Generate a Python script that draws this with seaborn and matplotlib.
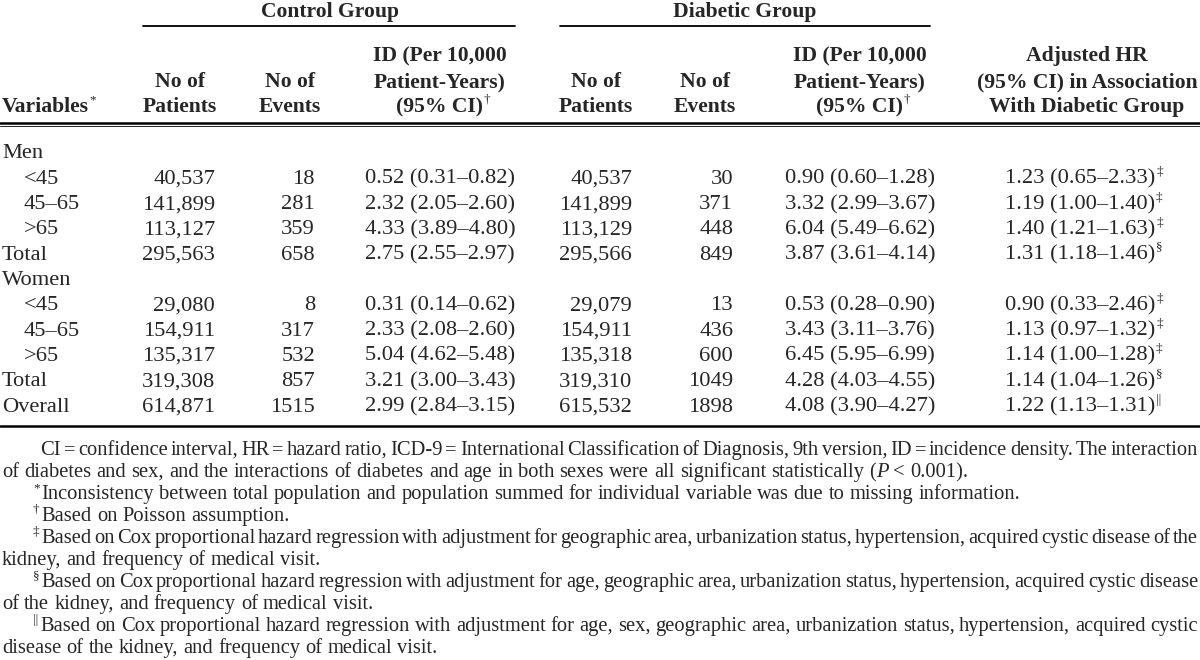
import matplotlib
matplotlib.use("Agg")
import matplotlib.pyplot as plt
import seaborn as sns

sns.set_style("white")
plt.rcParams['font.family'] = ['Liberation Serif', 'DejaVu Serif']

# ---- data ----
variables = ["Men", "<45", "45\u201365", ">65", "Total", "Women", "<45", "45\u201365", ">65", "Total", "Overall"]
indent = [0, 1, 1, 1, 0, 0, 1, 1, 1, 0, 0]
control_patients = ["", "40,537", "141,899", "113,127", "295,563", "", "29,080", "154,911", "135,317", "319,308", "614,871"]
control_events = ["", "18", "281", "359", "658", "", "8", "317", "532", "857", "1515"]
control_id = ["", "0.52 (0.31\u20130.82)", "2.32 (2.05\u20132.60)", "4.33 (3.89\u20134.80)", "2.75 (2.55\u20132.97)", "",
              "0.31 (0.14\u20130.62)", "2.33 (2.08\u20132.60)", "5.04 (4.62\u20135.48)", "3.21 (3.00\u20133.43)", "2.99 (2.84\u20133.15)"]
diabetic_patients = ["", "40,537", "141,899", "113,129", "295,566", "", "29,079", "154,911", "135,318", "319,310", "615,532"]
diabetic_events = ["", "30", "371", "448", "849", "", "13", "436", "600", "1049", "1898"]
diabetic_id = ["", "0.90 (0.60\u20131.28)", "3.32 (2.99\u20133.67)", "6.04 (5.49\u20136.62)", "3.87 (3.61\u20134.14)", "",
               "0.53 (0.28\u20130.90)", "3.43 (3.11\u20133.76)", "6.45 (5.95\u20136.99)", "4.28 (4.03\u20134.55)", "4.08 (3.90\u20134.27)"]
adjusted_hr = ["", "1.23 (0.65\u20132.33)", "1.19 (1.00\u20131.40)", "1.40 (1.21\u20131.63)", "1.31 (1.18\u20131.46)", "",
               "0.90 (0.33\u20132.46)", "1.13 (0.97\u20131.32)", "1.14 (1.00\u20131.28)", "1.14 (1.04\u20131.26)", "1.22 (1.13\u20131.31)"]
hr_marks = ["", "\u2021", "\u2021", "\u2021", "\u00a7", "", "\u2021", "\u2021", "\u2021", "\u00a7", "||"]

group_titles = ["Control Group", "Diabetic Group"]
col_headers = [["Variables"], ["No of", "Patients"], ["No of", "Events"],
               ["ID (Per 10,000", "Patient-Years)", "(95% CI)"],
               ["No of", "Patients"], ["No of", "Events"],
               ["ID (Per 10,000", "Patient-Years)", "(95% CI)"],
               ["Adjusted HR", "(95% CI) in Association", "With Diabetic Group"]]
header_marks = ["*", "", "", "\u2020", "", "", "\u2020", ""]

footnotes = [
    ("", True, "CI = confidence interval, HR = hazard ratio, ICD-9 =  International Classification of Diagnosis, 9th version, ID = incidence density. The interaction"),
    (None, False, "of diabetes and sex, and the interactions of diabetes and age in both sexes were all significant statistically (P < 0.001)."),
    ("*", False, "Inconsistency between total population and population summed for individual variable was due to missing information."),
    ("\u2020", False, "Based on Poisson assumption."),
    ("\u2021", True, "Based on Cox proportional hazard regression with adjustment for geographic area, urbanization status, hypertension, acquired cystic disease of the"),
    (None, False, "kidney, and frequency of medical visit."),
    ("\u00a7", True, "Based on Cox proportional hazard regression with adjustment for age, geographic area, urbanization status, hypertension, acquired cystic disease"),
    (None, False, "of the kidney, and frequency of medical visit."),
    ("||", True, "Based on Cox proportional hazard regression with adjustment for age, sex, geographic area, urbanization status, hypertension, acquired cystic"),
    (None, False, "disease of the kidney, and frequency of medical visit."),
]

# ---- figure ----
fig = plt.figure(figsize=(12, 6.6), dpi=100)
ax = fig.add_axes([0, 0, 1, 1])
ax.set_xlim(0, 1200)
ax.set_ylim(660, 0)
ax.axis("off")
renderer = fig.canvas.get_renderer()

FS = 16.2
HFS = 15.6
NFS = 14.8
SUP = 9.5

def width(s, **kw):
    t = ax.text(0, 0, s, **kw)
    w = t.get_window_extent(renderer=renderer).width
    t.remove()
    return w

def sup_after(x_right, base, s, fs=SUP, **kw):
    ax.text(x_right + 1, base - 9, s, fontsize=fs, va="baseline", ha="left", **kw)

# group titles + spanning rules
for title, xc, (x0, x1) in zip(group_titles, [330, 745], [(143, 515), (560, 930)]):
    ax.text(xc, 17, title, ha="center", va="baseline", fontsize=HFS, weight="bold")
    ax.plot([x0, x1], [26, 26], color="black", lw=1.3)

# column headers (baselines)
col_x = [2, 180, 290, 440, 596, 705, 860, 1087]
hdr_y = {3: [61, 87, 112], 2: [87, 112], 1: [112]}
for i, (lines, mark) in enumerate(zip(col_headers, header_marks)):
    ys = hdr_y[len(lines)]
    for j, (ln, y) in enumerate(zip(lines, ys)):
        ha = "left" if i == 0 else "center"
        ax.text(col_x[i], y, ln, ha=ha, va="baseline", fontsize=HFS, weight="bold")
        if j == len(lines) - 1 and mark:
            w = width(ln, fontsize=HFS, weight="bold")
            xr = col_x[i] + w if i == 0 else col_x[i] + w / 2
            sup_after(xr - 1, y, mark)

ax.plot([0, 1200], [123, 123], color="black", lw=1.8)
ax.plot([0, 1200], [126, 126], color="black", lw=0.6)

# body rows (baselines)
row_y0, row_dy = 158.5, 25.3
for k in range(len(variables)):
    y = row_y0 + k * row_dy
    kw = dict(va="baseline", fontsize=FS)
    ax.text(2 + 22 * indent[k], y, variables[k], ha="left", **kw)
    ax.text(215, y, control_patients[k], ha="right", **kw)
    ax.text(315, y, control_events[k], ha="right", **kw)
    ax.text(440, y, control_id[k], ha="center", **kw)
    ax.text(632, y, diabetic_patients[k], ha="right", **kw)
    ax.text(733, y, diabetic_events[k], ha="right", **kw)
    ax.text(860, y, diabetic_id[k], ha="center", **kw)
    if adjusted_hr[k]:
        ax.text(1080, y, adjusted_hr[k], ha="center", **kw)
        w = width(adjusted_hr[k], fontsize=FS)
        sup_after(1080 + w / 2, y, hr_marks[k])

ax.plot([0, 1200], [426, 426], color="black", lw=1.8)

# footnotes
def draw_line(text, x0, y, x1=None, fs=NFS):
    words = [w for w in text.split(" ") if w != ""]
    italic = [w.startswith("(P") for w in words]
    ws = []
    for w, it in zip(words, italic):
        if it:
            ws.append(width("(", fontsize=fs) + width("P", fontsize=fs, style="italic"))
        else:
            ws.append(width(w, fontsize=fs))
    sp = width("a b", fontsize=fs) - width("ab", fontsize=fs)
    if x1 is not None and len(words) > 1:
        gap = (x1 - x0 - sum(ws)) / (len(words) - 1)
    else:
        gap = sp
    x = x0
    for w, it, wd in zip(words, italic, ws):
        if it:
            ax.text(x, y, "(", ha="left", va="baseline", fontsize=fs)
            xp = x + width("(", fontsize=fs)
            ax.text(xp, y, "P", ha="left", va="baseline", fontsize=fs, style="italic")
        else:
            ax.text(x, y, w, ha="left", va="baseline", fontsize=fs)
        x += wd + gap

foot_y0, foot_dy = 455, 22
for k, (mark, just, txt) in enumerate(footnotes):
    y = foot_y0 + k * foot_dy
    if mark is None:
        draw_line(txt, 2, y)
    else:
        if mark:
            ax.text(33, y - 8, mark, ha="left", va="baseline", fontsize=SUP)
            x0 = 33 + width(mark, fontsize=SUP) + 2
        else:
            x0 = 40
        draw_line(txt, x0, y, 1198 if just else None)

fig.savefig("out.png", dpi=100)
